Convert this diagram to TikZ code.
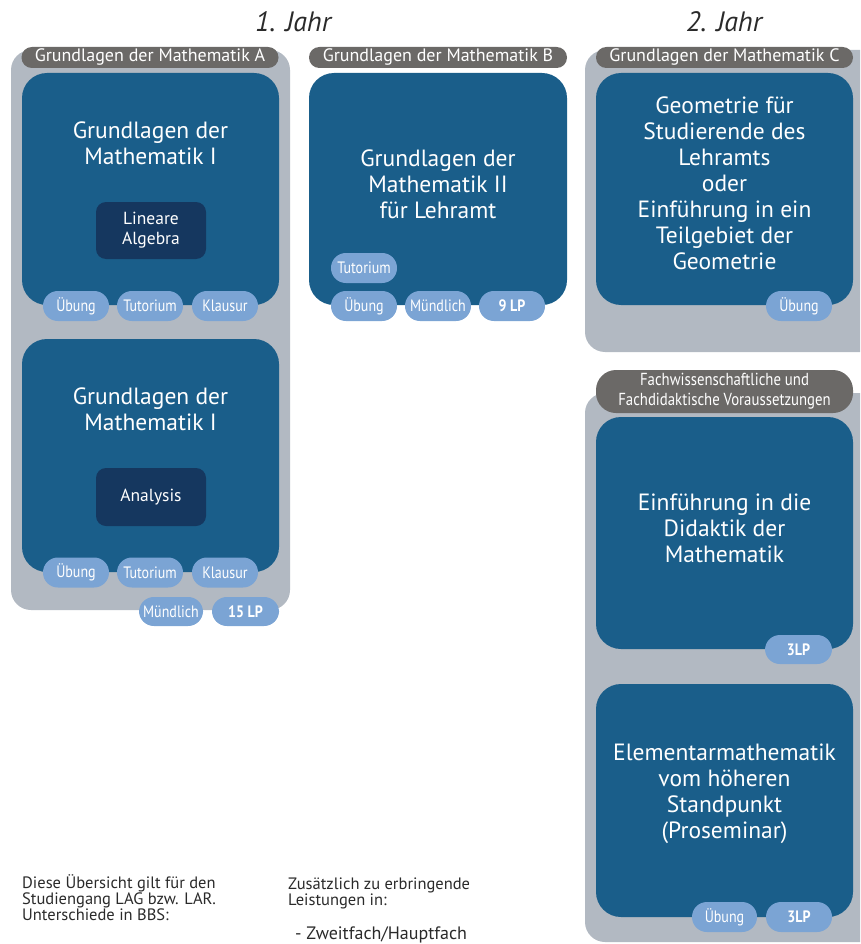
\documentclass[tikz,border=0pt]{standalone}
\usepackage{fontspec}
\setmainfont{PT Sans}
\newfontfamily\narrowfont[FakeStretch=0.85]{PT Sans}
\definecolor{mblue}{HTML}{1A5E8A}
\definecolor{dblue}{HTML}{15375F}
\definecolor{pillc}{HTML}{7BA4D4}
\definecolor{cgray}{HTML}{B2B9C2}
\definecolor{hgray}{HTML}{6B6967}
\definecolor{ftext}{HTML}{2A2A2A}
\begin{document}
\begin{tikzpicture}[x=1pt,y=-1pt,
  container/.style={fill=cgray, rounded corners=20pt, inner sep=0pt},
  header/.style={fill=hgray, rounded corners=10.4pt, minimum height=21, minimum width=257, inner sep=0pt, text=white, font=\fontsize{18}{19}\selectfont},
  modbox/.style={fill=mblue, rounded corners=25pt, minimum width=257, minimum height=232, inner sep=0pt},
  subbox/.style={fill=dblue, rounded corners=10pt, minimum width=110, minimum height=57, inner sep=0pt, text=white, align=center, font=\fontsize{17.5}{20}\selectfont},
  modtext/.style={text=white, align=center, inner sep=0pt, font=\fontsize{23.5}{26}\selectfont},
  pill/.style={fill=pillc, rounded corners=14.9pt, minimum height=30, minimum width=66, inner sep=0pt, text=white, font=\narrowfont\fontsize{16.5}{18}\selectfont},
  lp/.style={pill, font=\narrowfont\bfseries\fontsize{16.5}{18}\selectfont},
  yeartitle/.style={anchor=base, inner sep=0pt, text=ftext, font=\itshape\fontsize{28}{32}\selectfont},
  foot/.style={anchor=base west, inner sep=0pt, align=left, text=ftext, font=\fontsize{16.5}{15}\selectfont}
]
\useasboundingbox (0,0) rectangle (860,944);
\clip (0,0) rectangle (860,944);

% titles
\node[yeartitle] (y1) at (293,32) {1. Jahr};
\node[yeartitle] (y2) at (724,32) {2. Jahr};

% ---------- column A ----------
\node[container, minimum width=279, minimum height=560] (gA) at (150.5,330) {};
\node[header] (hA) at (150,57.5) {Grundlagen der Mathematik A};
\node[modbox] (b1) at (150.5,189) {};
\node[modtext] (t1) at (150.5,143.5) {Grundlagen der\\Mathematik I};
\node[subbox] (la) at (151,230.5) {Lineare\\Algebra};
\node[pill] (p1a) at (76,306) {Übung};
\node[pill] (p1b) at (150,306) {Tutorium};
\node[pill] (p1c) at (225,306) {Klausur};

\node[modbox, minimum height=233] (b2) at (150.5,455.5) {};
\node[modtext] (t2) at (150.5,409.5) {Grundlagen der\\Mathematik I};
\node[subbox, minimum height=58] (an) at (151,497) {Analysis};
\node[pill] (p2a) at (76,572.5) {Übung};
\node[pill] (p2b) at (150,572.5) {Tutorium};
\node[pill] (p2c) at (225,572.5) {Klausur};
\node[pill, minimum width=64, minimum height=29] (p2d) at (171,611.5) {Mündlich};
\node[lp, minimum width=67, minimum height=29] (p2e) at (245.5,611.5) {15 LP};

% ---------- column B ----------
\node[header, minimum width=258] (hB) at (438,57.5) {Grundlagen der Mathematik B};
\node[modbox, minimum width=258] (bB) at (438,189) {};
\node[modtext] (tB) at (438,184) {Grundlagen der\\Mathematik II\\für Lehramt};
\node[pill] (pBt) at (364,268) {Tutorium};
\node[pill] (pBa) at (364,306) {Übung};
\node[pill] (pBb) at (438,306) {Mündlich};
\node[lp] (pBc) at (512,306) {9 LP};

% ---------- column C ----------
\node[container, minimum width=295, minimum height=302] (gC) at (732.5,201) {};
\node[header] (hC) at (724.5,57.5) {Grundlagen der Mathematik C};
\node[modbox] (bC) at (724.5,189) {};
\node[modtext] (tC) at (724.5,183.5) {Geometrie für\\Studierende des\\Lehramts\\oder\\Einführung in ein\\Teilgebiet der\\Geometrie};
\node[pill] (pC) at (799,306) {Übung};

% ---------- column D ----------
\node[container, minimum width=295, minimum height=549] (gD) at (732.5,667.5) {};
\node[header, minimum height=43, rounded corners=20pt, align=center, font=\narrowfont\fontsize{17.4}{20}\selectfont] (hD) at (724.5,391.5) {Fachwissenschaftliche und\\Fachdidaktische Voraussetzungen};
\node[modbox] (bD1) at (724.5,533) {};
\node[modtext] (tD1) at (724.5,528) {Einführung in die\\Didaktik der\\Mathematik};
\node[lp, minimum width=67, minimum height=29] (pD1) at (798.5,649.5) {3LP};
\node[modbox, minimum height=233] (bD2) at (724.5,800.5) {};
\node[modtext] (tD2) at (724.5,794) {Elementarmathematik\\vom höheren\\Standpunkt\\(Proseminar)};
\node[pill, minimum width=65] (pD2a) at (724.5,917) {Übung};
\node[lp] (pD2b) at (799,917) {3LP};

% ---------- footer ----------
\node[foot] (f1) at (22,920.7) {Diese Übersicht gilt für den\\Studiengang LAG bzw. LAR.\\Unterschiede in BBS:};
\node[foot] (f2) at (288,905.7) {Zusätzlich zu erbringende\\Leistungen in:};
\node[foot, font=\fontsize{18}{18}\selectfont] (f3) at (295,939) {- Zweitfach/Hauptfach};
\end{tikzpicture}
\end{document}
